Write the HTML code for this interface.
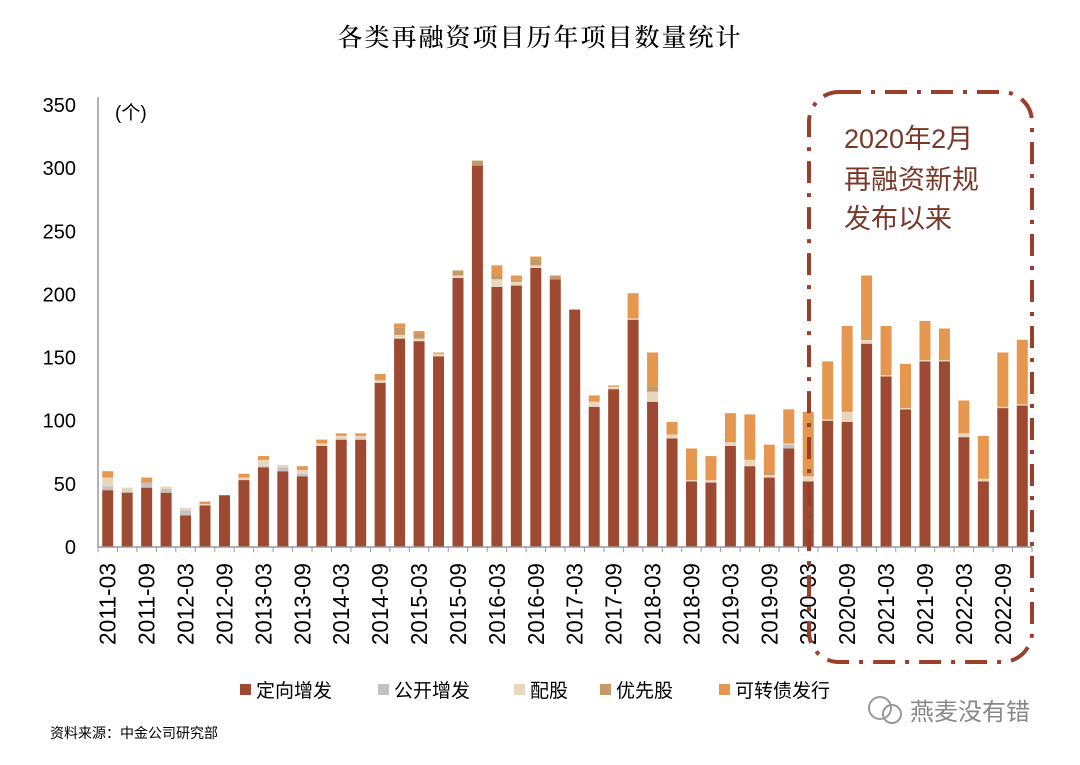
<!DOCTYPE html>
<html><head><meta charset="utf-8"><style>
body{margin:0;background:#fff;width:1080px;height:760px;overflow:hidden;font-family:"Liberation Sans","Noto Sans CJK SC",sans-serif}
</style></head><body>
<svg id="chart" width="1080" height="760" xmlns="http://www.w3.org/2000/svg">
<text x="540" y="46" text-anchor="middle" font-size="25" font-family="'Noto Serif CJK SC',serif" font-weight="500" letter-spacing="2">各类再融资项目历年项目数量统计</text>
<g id="yaxis"></g><g id="bars"></g><g id="xaxis"></g>
<text x="115" y="119" font-size="19">(个)</text>
<rect x="809" y="92" width="223" height="570" rx="30" fill="none" stroke="#9b3f2b" stroke-width="4" stroke-dasharray="22,10,4,10"/>
<g font-size="27" fill="#7a3828">
<text x="844" y="148">2020年2月</text><text x="844" y="189">再融资新规</text><text x="844" y="228">发布以来</text></g>
<g id="legend" font-size="19"></g>
<text x="50" y="738" font-size="14">资料来源：中金公司研究部</text>
<g><circle cx="880" cy="708" r="11" fill="none" stroke="#999" stroke-width="2"/><circle cx="892" cy="714" r="9" fill="none" stroke="#999" stroke-width="2"/>
<text x="910" y="720" font-size="24" fill="#888">燕麦没有错</text></g>
</svg>
<script>
const categories=[];for(let y=2011;y<=2022;y++)for(const m of ['03','06','09','12'])categories.push(y+'-'+m);
const seriesNames=['定向增发','公开增发','配股','优先股','可转债发行'];
const dingxiang=[45,43,47,43,25,33,41,53,63,60,56,80,85,85,130,165,163,151,213,302,206,207,221,212,188,111,125,180,115,86,52,51,80,64,55,78,52,100,99,161,135,109,147,147,87,52,110,112];
const gongkai=[3,1,4,3,4,0,0,0,1,3,2,0,0,0,0,0,0,0,0,0,0,0,0,0,0,0,0,0,0,0,0,0,0,0,0,3,0,0,0,0,0,0,0,0,0,0,0,0];
const peigu=[7,3,0,2,2,1,0,2,5,2,3,2,3,3,2,3,2,2,2,0,6,3,2,0,0,4,2,1,8,3,1,2,3,5,2,1,4,1,8,3,1,1,1,1,3,2,1,1];
const youxian=[0,0,0,0,0,0,0,0,0,0,0,0,0,0,0,6,4,0,4,4,3,2,5,3,0,0,0,0,4,0,0,0,0,0,2,0,0,0,0,2,0,0,0,0,0,0,0,0];
const kezhuan=[5,0,4,0,0,2,0,3,3,0,3,3,2,2,5,3,2,1,0,0,8,3,2,0,0,5,1,20,27,10,25,19,23,36,22,27,51,46,68,49,39,35,31,25,26,34,43,51];
const yTicks=[0,50,100,150,200,250,300,350];
const colors=['#9e4a32','#c2c2c2','#e8d6bd','#c49a68','#e5974f'];
const series=[dingxiang,gongkai,peigu,youxian,kezhuan];
const NS='http://www.w3.org/2000/svg';
const x0=98,x1=1032,y0=547,yTop=105,yMax=350;
const step=(x1-x0)/categories.length,bw=11;
const yS=v=>y0-(v/yMax)*(y0-yTop);
const xS=i=>x0+step*(i+0.5);
function mk(t,a,p){const e=document.createElementNS(NS,t);for(const k in a)e.setAttribute(k,a[k]);p.appendChild(e);return e;}
const ya=document.getElementById('yaxis');
mk('line',{x1:x0,y1:yTop-8,x2:x0,y2:y0,stroke:'#999','stroke-width':1.5},ya);
yTicks.forEach(t=>{const e=mk('text',{x:76,y:yS(t)+7,'text-anchor':'end','font-size':20},ya);e.textContent=t;

});
const bg=document.getElementById('bars');
categories.forEach((c,i)=>{let acc=0;series.forEach((s,k)=>{const v=s[i];if(v>0){const r=mk('rect',{x:xS(i)-bw/2,y:yS(acc+v),width:bw,height:yS(acc)-yS(acc+v),fill:colors[k]},bg);

}acc+=v;});});
const xa=document.getElementById('xaxis');
mk('line',{x1:x0,y1:y0,x2:x1,y2:y0,stroke:'#999','stroke-width':1.5},xa);
for(let i=0;i<=categories.length;i++)mk('line',{x1:x0+step*i,y1:y0,x2:x0+step*i,y2:y0+5,stroke:'#999'},xa);
categories.forEach((c,i)=>{if(i%2)return;const t=mk('text',{x:0,y:0,'text-anchor':'end','font-size':23,textLength:82,lengthAdjust:'spacingAndGlyphs',transform:`translate(${xS(i)+8},${y0+16}) rotate(-90)`},xa);t.textContent=c;

});
const lg=document.getElementById('legend');const lx=[240,378,514,600,719];
seriesNames.forEach((n,k)=>{const g=mk('g',{},lg);


mk('rect',{x:lx[k],y:684,width:11,height:11,fill:colors[k]},g);const t=mk('text',{x:lx[k]+16,y:697},g);t.textContent=n;});
</script>
</body></html>
